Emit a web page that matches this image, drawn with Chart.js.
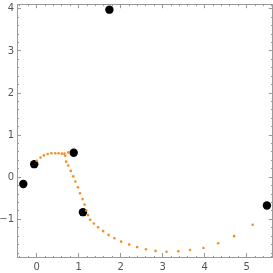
<!DOCTYPE html>
<html>
<head>
<meta charset="utf-8">
<script src="https://cdn.jsdelivr.net/npm/chart.js@4/dist/chart.umd.min.js"></script>
<style>
  html, body { margin: 0; padding: 0; background: #fff; overflow: hidden; }
  #wrap { width: 273px; height: 273px; overflow: hidden; }
</style>
</head>
<body>
<!-- canvas a little wider than the window: Chart.js keeps a few px spare on the right -->
<div id="wrap"><canvas id="plot" width="277" height="273"></canvas></div>
<script>
// black control points
const pointX = [-0.32, -0.06, 0.88, 1.10, 1.73, 5.48];
const pointY = [-0.16, 0.31, 0.58, -0.83, 3.98, -0.67];

// orange sampled curve
const curveX = [0.00, 0.09, 0.17, 0.26, 0.35, 0.44, 0.52, 0.60, 0.66, 0.75,
                0.68, 0.70, 0.75, 0.81, 0.87, 0.92, 0.98, 1.03, 1.09, 1.14,
                1.18, 1.22, 1.27, 1.36, 1.46, 1.58, 1.71, 1.85, 2.01, 2.20,
                2.39, 2.60, 2.83, 3.09, 3.37, 3.65, 3.97, 4.32, 4.70, 5.14];
const curveY = [0.39, 0.47, 0.52, 0.55, 0.57, 0.57, 0.57, 0.56, 0.56, 0.59,
                0.51, 0.37, 0.28, 0.15, 0.02, -0.10, -0.24, -0.38, -0.52, -0.65,
                -0.79, -0.90, -1.01, -1.10, -1.19, -1.28, -1.37, -1.45, -1.53, -1.60,
                -1.66, -1.71, -1.75, -1.77, -1.76, -1.73, -1.68, -1.57, -1.40, -1.13];

const xRange = [-0.47, 5.62];
const yRange = [-1.895, 4.11];

const toXY = (xs, ys) => xs.map((x, i) => ({ x: x, y: ys[i] }));

const FRAME = '#9a9a9a';
const isMajor = v => Math.abs(v - Math.round(v)) < 1e-6;
const fmt = v => (isMajor(v) ? (v < 0 ? '\u2212' + Math.abs(Math.round(v)) : String(Math.round(v))) : '');

// drop the extra room Chart.js keeps for edge labels
const noPad = s => {
  s.paddingTop = 0; s.paddingBottom = 0; s.paddingLeft = 0; s.paddingRight = 0;
};

// one axis = one side of the frame; ticks point inward (negative tickLength),
// minor ticks are shortened with a dash pattern
function side(axis, position, range, fromBorder, labelled, padding) {
  const horizontal = axis === 'x';
  return {
    type: 'linear',
    axis: axis,
    position: position,
    min: range[0], max: range[1],
    afterFit: s => {
      if (horizontal) s.height = labelled ? 16 : 0;
      else s.width = labelled ? 17 : 0;
      noPad(s);
    },
    grid: {
      display: true,
      drawOnChartArea: false,
      drawTicks: true,
      tickLength: -4,
      tickWidth: 1,
      tickColor: FRAME,
      tickBorderDash: ctx => (isMajor(ctx.tick.value) ? [] : (fromBorder ? [2, 20] : [0, 2, 2, 20]))
    },
    border: { display: true, color: FRAME, width: 1 },
    ticks: {
      display: labelled,
      stepSize: 0.2,
      maxTicksLimit: 1000,
      includeBounds: false,
      autoSkip: false,
      maxRotation: 0,
      padding: padding,
      color: '#555',
      font: { family: 'DejaVu Sans', size: 10 },
      callback: fmt
    }
  };
}

new Chart(document.getElementById('plot'), {
  type: 'scatter',
  data: {
    datasets: [
      {
        data: toXY(curveX, curveY),
        backgroundColor: 'rgb(248,140,30)',
        borderWidth: 0,
        pointRadius: 1.3
      },
      {
        data: toXY(pointX, pointY),
        backgroundColor: '#000',
        borderWidth: 0,
        pointRadius: 4.2
      }
    ]
  },
  options: {
    responsive: false,
    animation: false,
    layout: { padding: { top: 2, right: 1, left: 0, bottom: 0 } },
    plugins: { legend: { display: false }, tooltip: { enabled: false } },
    scales: {
      x: side('x', 'bottom', xRange, true, true, 8),
      xTop: side('x', 'top', xRange, false, false, 0),
      y: side('y', 'left', yRange, false, true, 7),
      yRight: side('y', 'right', yRange, true, false, 0)
    }
  }
});
</script>
</body>
</html>
